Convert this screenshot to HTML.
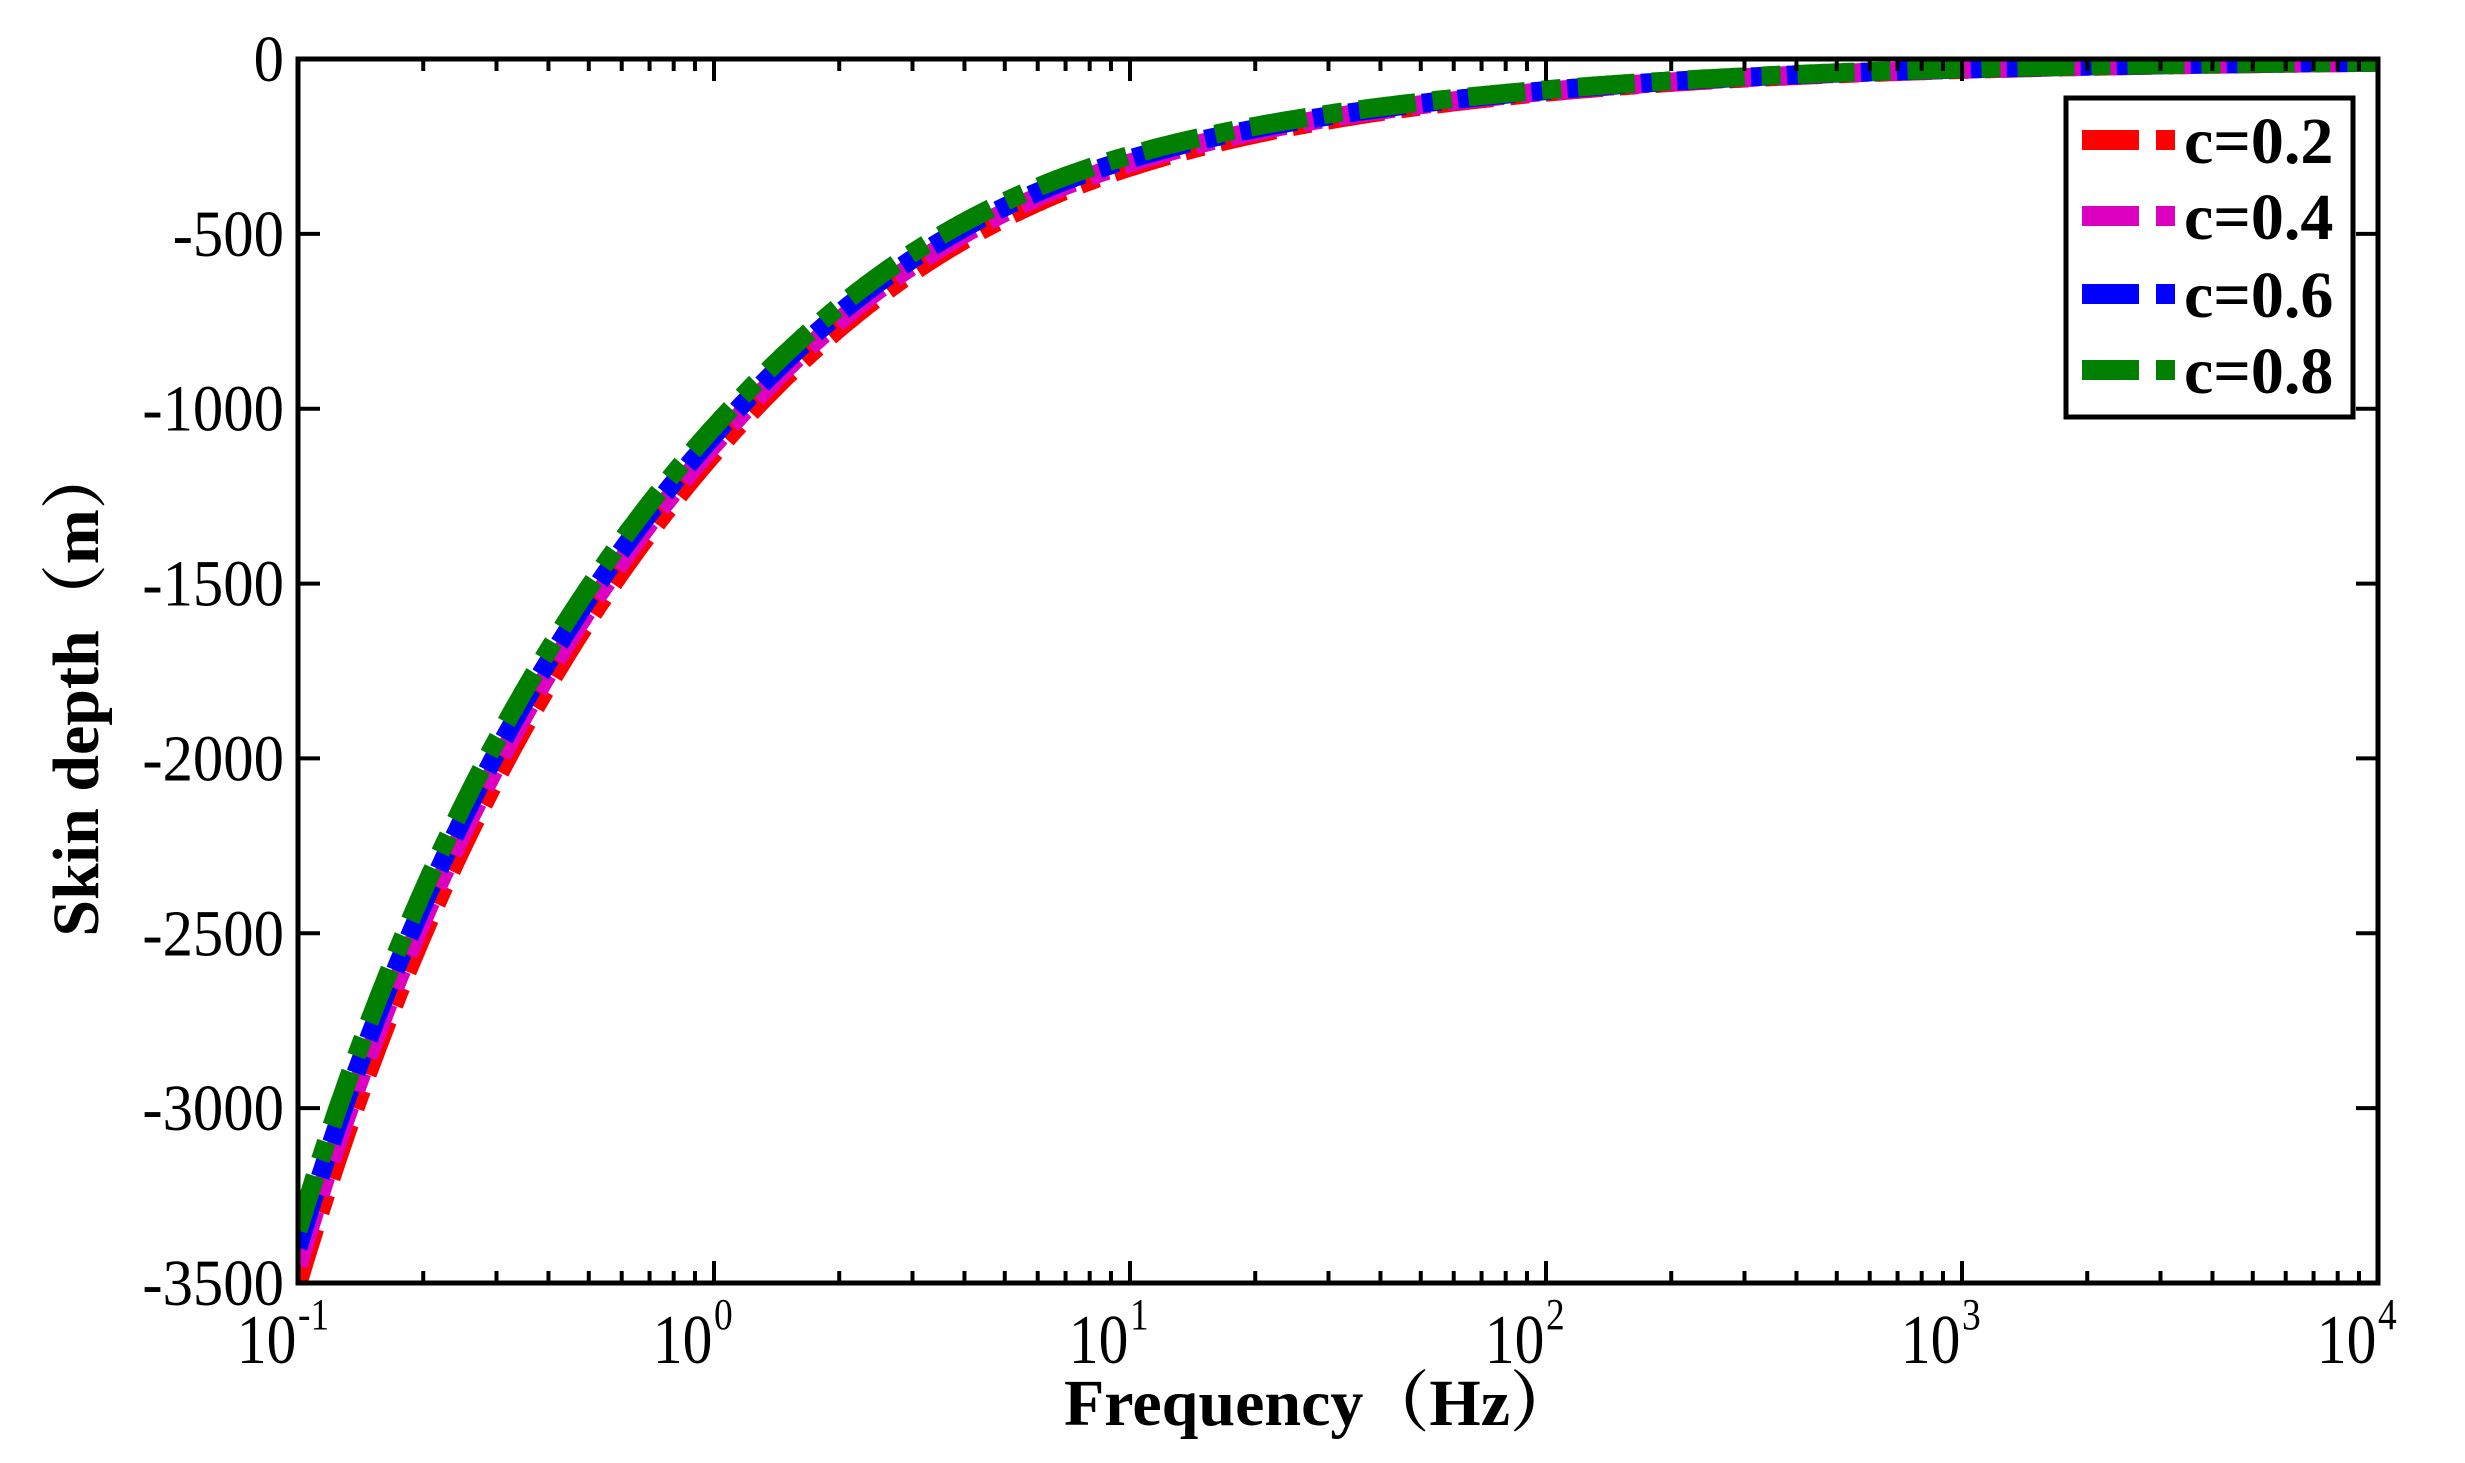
<!DOCTYPE html>
<html><head><meta charset="utf-8"><style>
html,body{margin:0;padding:0;background:#fff;}
svg{display:block;}
text{font-family:"Liberation Serif","Noto Serif CJK SC",serif;fill:#000;}
</style></head><body>
<svg id="s" width="2465" height="1463" viewBox="0 0 2465 1463" xmlns="http://www.w3.org/2000/svg">
<defs><clipPath id="cp"><rect x="298" y="59" width="2080" height="1224"/></clipPath></defs>
<g id="curves" clip-path="url(#cp)"></g>
<g id="axes" stroke="#000" stroke-width="5" fill="none"></g>
<g id="labels"></g>
<rect x="2066" y="98" width="287" height="319" fill="#fff" stroke="#000" stroke-width="5"/>
<g id="legend"></g>
</svg>
<script>
var NS="http://www.w3.org/2000/svg";
function el(t,a,p,txt){var e=document.createElementNS(NS,t);for(var k in a)e.setAttribute(k,a[k]);if(txt!==undefined)e.textContent=txt;p.appendChild(e);return e;}
var L=298,R=2378,T=59,B=1283,dec=416;
function X(f){return L+dec*(Math.log10(f)+1);}
function Y(d){return T+d*(B-T)/3500;}
var ax=document.getElementById('axes');
el('rect',{x:L,y:T,width:R-L,height:B-T},ax);
for(var e=-1;e<=4;e++){for(var m=1;m<=9;m++){var f=m*Math.pow(10,e);if(f>10000)break;var x=X(f);var len=(m==1)?22:12;
el('line',{x1:x,y1:B,x2:x,y2:B-len,'stroke-width':4},ax);el('line',{x1:x,y1:T,x2:x,y2:T+len,'stroke-width':4},ax);}}
var lb=document.getElementById('labels');
for(var i=0;i<=7;i++){var y=Y(i*500);
el('line',{x1:L,y1:y,x2:L+22,y2:y,'stroke-width':4},ax);el('line',{x1:R,y1:y,x2:R-22,y2:y,'stroke-width':4},ax);
el('text',{x:0,y:0,'font-size':66,'text-anchor':'end',transform:'translate(284,'+(y+22)+') scale(0.92,1)'},lb,i==0?'0':'-'+(i*500));}
var sups=['-1','0','1','2','3','4'];
for(var e=-1;e<=4;e++){var x=X(Math.pow(10,e));
var g=el('g',{transform:'translate('+x+',1363) scale(0.85,1)'},lb);
el('text',{x:-2,y:0,'font-size':70,'text-anchor':'end'},g,'10');
el('text',{x:0,y:-34,'font-size':44,'text-anchor':'start'},g,sups[e+1]);}
el('text',{x:0,y:0,'font-size':66,'font-weight':'bold','text-anchor':'middle',transform:'translate(1320,1425) scale(1.0,1)'},lb,'Frequency（Hz）');
el('text',{x:0,y:0,'font-size':66,'font-weight':'bold','text-anchor':'middle',transform:'translate(98,690) rotate(-90)'},lb,'Skin depth（m）');
var red=[3500,1127,309,95,30,9.5], grn=[3350,1052,275,88,28,9];
function interp(arr,f){var lf=Math.log10(f);var i=Math.min(4,Math.max(0,Math.floor(lf+1)));var t=lf+1-i;
var p=function(k){k=Math.max(0,Math.min(5,k));return Math.log10(arr[k]);};
var p0=p(i-1),p1=p(i),p2=p(i+1),p3=p(i+2);
if(i==0)p0=2*p1-p2; if(i+2>5)p3=2*p2-p1;
var v=0.5*((2*p1)+(-p0+p2)*t+(2*p0-5*p1+4*p2-p3)*t*t+(-p0+3*p1-3*p2+p3)*t*t*t);return Math.pow(10,v);}
var cols=['#ff0000','#dd00c0','#0000ff','#007f00'],w=[0,0.33,0.67,1];
var cg=document.getElementById('curves');
for(var c=0;c<4;c++){var d='';for(var k=0;k<=600;k++){var lf=-1+5*k/600;var f=Math.pow(10,lf);
var v=Math.pow(10,(1-w[c])*Math.log10(interp(red,f))+w[c]*Math.log10(interp(grn,f)));
d+=(k?'L':'M')+X(f).toFixed(1)+' '+Y(v).toFixed(1);}
el('path',{d:d,stroke:cols[c],'stroke-width':19,fill:'none','stroke-dasharray':'57 17 19 17','stroke-linecap':'butt'},cg);}
var lg=document.getElementById('legend');var rows=[140,216,294,370],names=['c=0.2','c=0.4','c=0.6','c=0.8'];
for(var c=0;c<4;c++){var y=rows[c];
el('rect',{x:2082,y:y-10,width:57,height:20,fill:cols[c]},lg);
el('rect',{x:2156,y:y-10,width:19,height:20,fill:cols[c]},lg);
el('text',{x:0,y:0,'font-size':66,'font-weight':'bold',transform:'translate(2184,'+(y+23)+')'},lg,names[c]);}
</script>
</body></html>
